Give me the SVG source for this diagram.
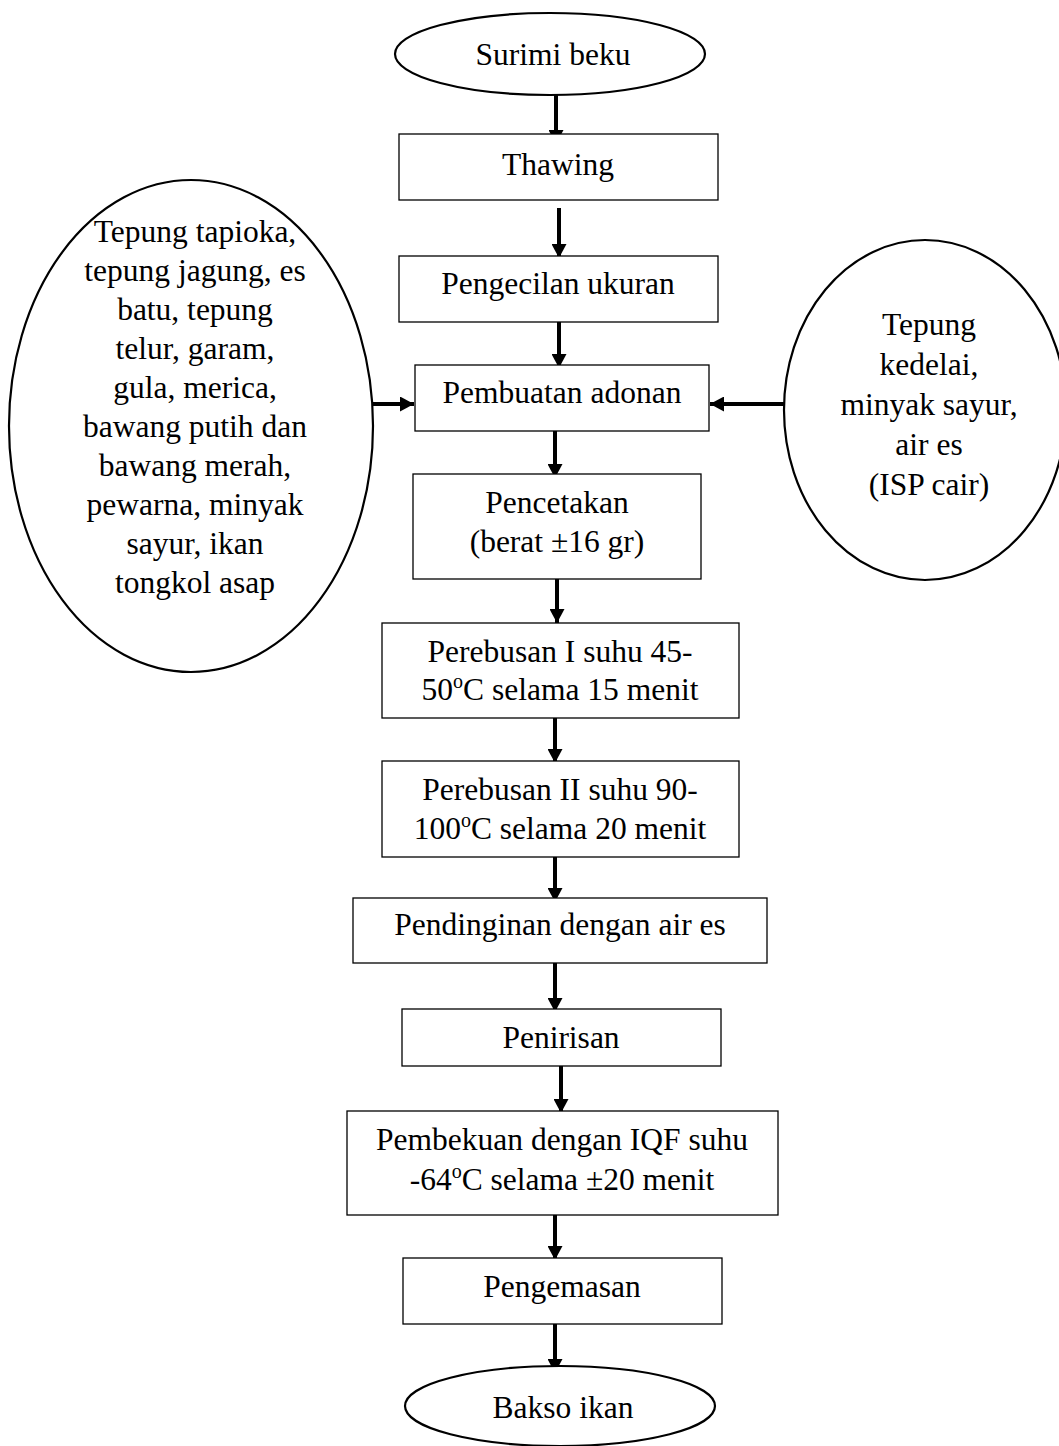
<svg xmlns="http://www.w3.org/2000/svg" width="1059" height="1446" viewBox="0 0 1059 1446">
<style>
text{font-family:"Liberation Serif","Times New Roman",serif;font-size:31.5px;fill:#000;text-anchor:middle}
.box{fill:#fff;stroke:#000;stroke-width:1.3}
.ell{fill:#fff;stroke:#000;stroke-width:2.2}
.arr{stroke:#000;stroke-width:4;fill:none;marker-end:url(#ah)}
.sup{font-size:20px}
</style>
<defs>
<marker id="ah" viewBox="0 0 14 15" refX="14" refY="7.5" markerWidth="14" markerHeight="15" markerUnits="userSpaceOnUse" orient="auto">
<path d="M0,0 L14,7.5 L0,15 z" fill="#000"/>
</marker>
</defs>
<rect width="1059" height="1446" fill="#fff"/>
<g id="connectors">
<line class="arr" x1="556" y1="95" x2="556" y2="144"/>
<line class="arr" x1="559" y1="208" x2="559" y2="258"/>
<line class="arr" x1="559" y1="318" x2="559" y2="368"/>
<line class="arr" x1="555" y1="428" x2="555" y2="478"/>
<line class="arr" x1="557" y1="573" x2="557" y2="623"/>
<line class="arr" x1="555" y1="713" x2="555" y2="763"/>
<line class="arr" x1="555" y1="852" x2="555" y2="902"/>
<line class="arr" x1="555" y1="960" x2="555" y2="1012"/>
<line class="arr" x1="561" y1="1063" x2="561" y2="1113"/>
<line class="arr" x1="555" y1="1210" x2="555" y2="1260"/>
<line class="arr" x1="555" y1="1322" x2="555" y2="1373"/>
<line class="arr" x1="373" y1="404" x2="414" y2="404"/>
<line class="arr" x1="784" y1="404" x2="710" y2="404"/>
</g>
<g id="surimi">
<ellipse class="ell" cx="550" cy="54" rx="155" ry="41"/>
<text x="553" y="65">Surimi beku</text>
</g>
<g id="thawing">
<rect class="box" x="399" y="134" width="319" height="66"/>
<text x="558" y="175">Thawing</text>
</g>
<g id="pengecilan">
<rect class="box" x="399" y="256" width="319" height="66"/>
<text x="558" y="294">Pengecilan ukuran</text>
</g>
<g id="pembuatan">
<rect class="box" x="415" y="365" width="294" height="66"/>
<text x="562" y="403">Pembuatan adonan</text>
</g>
<g id="pencetakan">
<rect class="box" x="413" y="474" width="288" height="105"/>
<text x="557" y="513">Pencetakan</text>
<text x="557" y="552">(berat ±16 gr)</text>
</g>
<g id="perebusan1">
<rect class="box" x="382" y="623" width="357" height="95"/>
<text x="560" y="662">Perebusan I suhu 45-</text>
<text x="560" y="700">50<tspan class="sup" dy="-12">o</tspan><tspan dy="12">C selama 15 menit</tspan></text>
</g>
<g id="perebusan2">
<rect class="box" x="382" y="761" width="357" height="96"/>
<text x="560" y="800">Perebusan II suhu 90-</text>
<text x="560" y="839">100<tspan class="sup" dy="-12">o</tspan><tspan dy="12">C selama 20 menit</tspan></text>
</g>
<g id="pendinginan">
<rect class="box" x="353" y="898" width="414" height="65"/>
<text x="560" y="935">Pendinginan dengan air es</text>
</g>
<g id="penirisan">
<rect class="box" x="402" y="1009" width="319" height="57"/>
<text x="561" y="1048">Penirisan</text>
</g>
<g id="pembekuan">
<rect class="box" x="347" y="1111" width="431" height="104"/>
<text x="562" y="1150">Pembekuan dengan IQF suhu</text>
<text x="562" y="1190">-64<tspan class="sup" dy="-12">o</tspan><tspan dy="12">C selama ±20 menit</tspan></text>
</g>
<g id="pengemasan">
<rect class="box" x="403" y="1258" width="319" height="66"/>
<text x="562" y="1297">Pengemasan</text>
</g>
<g id="bakso">
<ellipse class="ell" cx="560" cy="1406" rx="155" ry="40"/>
<text x="563" y="1418">Bakso ikan</text>
</g>
<g id="bahan-kiri">
<ellipse class="ell" cx="191" cy="426" rx="182" ry="246"/>
<text x="195" y="242">Tepung tapioka,</text>
<text x="195" y="281">tepung jagung, es</text>
<text x="195" y="320">batu, tepung</text>
<text x="195" y="359">telur, garam,</text>
<text x="195" y="398">gula, merica,</text>
<text x="195" y="437">bawang putih dan</text>
<text x="195" y="476">bawang merah,</text>
<text x="195" y="515">pewarna, minyak</text>
<text x="195" y="554">sayur, ikan</text>
<text x="195" y="593">tongkol asap</text>
</g>
<g id="bahan-kanan">
<ellipse class="ell" cx="925" cy="410" rx="141" ry="170"/>
<text x="929" y="335">Tepung</text>
<text x="929" y="375">kedelai,</text>
<text x="929" y="415">minyak sayur,</text>
<text x="929" y="455">air es</text>
<text x="929" y="495">(ISP cair)</text>
</g>
</svg>
